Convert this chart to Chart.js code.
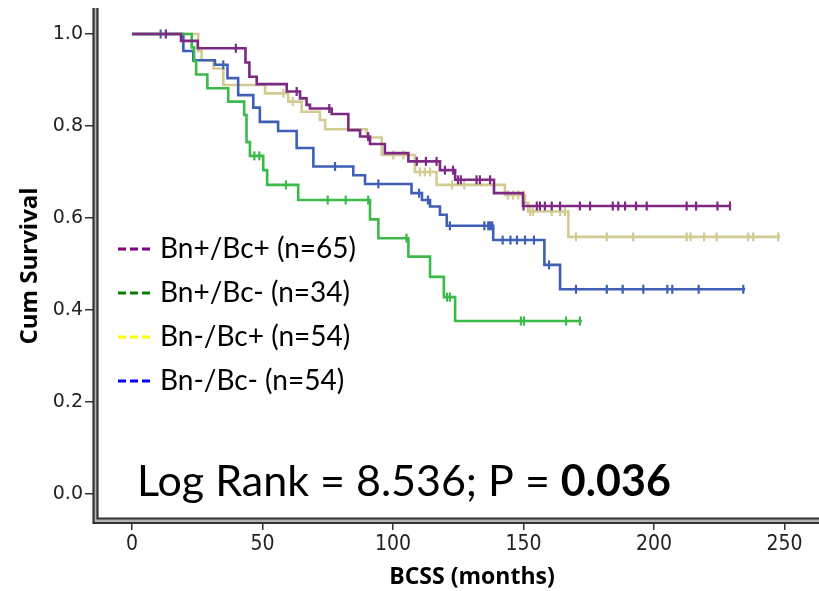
<!DOCTYPE html>
<html>
<head>
<meta charset="utf-8">
<script src="https://cdn.jsdelivr.net/npm/chart.js@4.4.1/dist/chart.umd.min.js"></script>
<style>
  html, body { margin: 0; padding: 0; background: #fff; }
  #wrap { width: 819px; height: 591px; }
</style>
</head>
<body>
<div id="wrap"><canvas id="km" width="819" height="591"></canvas></div>
<script>
/* ---- Kaplan-Meier data (months, cum survival) ---- */

// Bn+/Bc+ (n=65)
const purpleTimes = [0, 18.8, 25.2, 43.5, 45, 47.8, 59.3, 64.4, 66.9, 68.2, 76.5, 82.9, 87.4, 91.2, 96.9, 105.9, 118, 123.8, 138.7, 149.8, 229.5];
const purpleSurv  = [1, 0.985, 0.969, 0.938, 0.907, 0.891, 0.875, 0.86, 0.846, 0.838, 0.826, 0.791, 0.777, 0.761, 0.741, 0.723, 0.704, 0.683, 0.654, 0.626, 0.626];
const purpleCens  = [13, 39.8, 63.1, 75.6, 90.5, 109.1, 112.6, 116.7, 119.9, 123, 124.9, 126, 132, 133.3, 137.2, 150, 155.1, 156.3, 158.2, 160.8, 164, 171.6, 175.5, 184.2, 186.3, 188.9, 193.1, 197.2, 212.5, 216.1, 224.3, 229.1];

// Bn+/Bc- (n=34)
const greenTimes = [0, 22.9, 23.8, 24.6, 28.9, 36.9, 43, 43.9, 45.2, 50.3, 51.8, 63.7, 91.2, 94.4, 105.9, 114.2, 119.5, 123.8, 172.4];
const greenSurv  = [1, 0.971, 0.941, 0.912, 0.882, 0.853, 0.824, 0.765, 0.735, 0.704, 0.672, 0.639, 0.597, 0.556, 0.516, 0.472, 0.428, 0.376, 0.376];
const greenCens  = [46.9, 48.8, 59, 75, 81.9, 90.5, 105.2, 120.7, 121.8, 149, 150.2, 166.3, 171.6];

// Bn-/Bc+ (n=54)
const tanTimes = [0, 25.4, 26.7, 31.2, 35, 51, 59.9, 65, 72, 74, 89.9, 95.7, 108.4, 116.7, 142.9, 150.6, 151.8, 167.2, 248.3];
const tanSurv  = [1, 0.963, 0.943, 0.925, 0.889, 0.871, 0.853, 0.831, 0.813, 0.793, 0.775, 0.737, 0.70, 0.672, 0.65, 0.633, 0.614, 0.559, 0.559];
const tanCens  = [58, 61.6, 100.1, 104, 110.3, 112.2, 114.2, 122.6, 127.3, 144, 146, 148, 150, 152.5, 153.6, 160.8, 164, 165.9, 170.1, 181.9, 192, 212.5, 214, 219.2, 224, 236.1, 238, 247.6];

// Bn-/Bc- (n=54)
const blueTimes = [0, 19.7, 23.5, 31.8, 36.6, 40.7, 46.5, 49, 56, 63.1, 69.5, 84.8, 89.3, 107.1, 111.1, 114.2, 118, 120.6, 138.4, 158, 164, 234.9];
const blueSurv  = [1, 0.963, 0.943, 0.933, 0.904, 0.867, 0.84, 0.809, 0.789, 0.752, 0.712, 0.693, 0.674, 0.654, 0.639, 0.625, 0.607, 0.583, 0.552, 0.498, 0.445, 0.445];
const blueCens  = [11, 35, 77.8, 94.4, 110, 113.4, 121.8, 135, 136.5, 137.2, 138, 142, 145, 147.5, 150.6, 154, 159.8, 170.1, 181.9, 188, 195.9, 205.1, 207, 217.1, 234.2];

const xTicks = [0, 50, 100, 150, 200, 250];
const yTicks = [0, 0.2, 0.4, 0.6, 0.8, 1.0];

const legendLabels = ['Bn+/Bc+ (n=65)', 'Bn+/Bc- (n=34)', 'Bn-/Bc+ (n=54)', 'Bn-/Bc- (n=54)'];
const legendColors = ['#7f007f', '#008000', '#ffff00', '#0000ff'];

const statText = 'Log Rank = 8.536; P = ';
const statBold = '0.036';

/* ---- helpers ---- */
function stepPoints(times, surv) {
  return times.map((t, i) => ({ x: t, y: surv[i] }));
}
function censorPoints(times, surv, cens) {
  return cens.map(c => {
    let s = surv[0];
    for (let i = 0; i < times.length; i++) if (times[i] <= c) s = surv[i];
    return { x: c, y: s };
  });
}

function curve(label, times, surv, color) {
  return {
    label, data: stepPoints(times, surv),
    borderColor: color, borderWidth: 2.6,
    stepped: 'before', pointRadius: 0, fill: false, tension: 0
  };
}
function marks(times, surv, cens, color) {
  return {
    data: censorPoints(times, surv, cens),
    showLine: false, borderColor: color, backgroundColor: color,
    pointStyle: 'line', rotation: 90, pointRadius: 4.5, borderWidth: 2.2
  };
}

const PURPLE = '#7d2883', GREEN = '#3cba49', TAN = '#d3cc92', BLUE = '#3f5fb7';

// plot box of the original figure
const AREA = { left: 98, right: 819, top: 8, bottom: 518 };

// pin the plot area so the scales line up with the figure
const pinArea = {
  id: 'pinArea',
  afterLayout(chart) {
    Object.assign(chart.chartArea, AREA, { width: AREA.right - AREA.left, height: AREA.bottom - AREA.top });
    const x = chart.scales.x, y = chart.scales.y;
    x.left = AREA.left; x.right = AREA.right; x.width = AREA.right - AREA.left; x.configure();
    y.top = AREA.top; y.bottom = AREA.bottom; y.height = AREA.bottom - AREA.top; y.configure();
  }
};

// Axes, legend and annotation
const overlay = {
  id: 'overlay',
  afterDraw(chart) {
    const ctx = chart.ctx;
    const a = chart.chartArea;
    ctx.save();

    // double axis lines
    ctx.fillStyle = '#b4b4b4';
    ctx.fillRect(93, a.top, 5, 523 - a.top);
    ctx.fillRect(93, 518, 819 - 93, 5);
    ctx.strokeStyle = '#333';
    ctx.lineWidth = 2.2;
    ctx.beginPath();
    ctx.moveTo(93.5, a.top); ctx.lineTo(93.5, 523); ctx.lineTo(819, 523);
    ctx.moveTo(97.5, a.top); ctx.lineTo(97.5, 518.5); ctx.lineTo(819, 518.5);
    ctx.stroke();

    // axis titles
    ctx.fillStyle = '#000';
    ctx.font = 'bold 23px "Open Sans"';
    ctx.textAlign = 'center';
    ctx.textBaseline = 'middle';
    ctx.fillText('BCSS (months)', 472, 577);
    ctx.save();
    ctx.translate(30, 266);
    ctx.rotate(-Math.PI / 2);
    ctx.font = 'bold 24px "Open Sans"';
    ctx.fillText('Cum Survival', 0, 0);
    ctx.restore();

    // legend
    ctx.textAlign = 'left';
    ctx.font = '28px Lato';
    legendLabels.forEach((lab, i) => {
      const y = 249 + i * 44;
      ctx.strokeStyle = legendColors[i];
      ctx.lineWidth = 3;
      ctx.beginPath();
      for (let k = 0; k < 3; k++) { ctx.moveTo(118 + k * 12, y); ctx.lineTo(126 + k * 12, y); }
      ctx.stroke();
      ctx.fillStyle = '#000';
      ctx.fillText(lab, 160, y);
    });

    // log rank
    ctx.textBaseline = 'alphabetic';
    ctx.font = '43px Lato';
    ctx.fillText(statText, 137, 496);
    const w = ctx.measureText(statText).width;
    ctx.font = 'bold 43px Lato';
    ctx.fillText(statBold, 137 + w, 496);

    ctx.restore();
  }
};

new Chart(document.getElementById('km'), {
  type: 'line',
  data: {
    datasets: [
      marks(purpleTimes, purpleSurv, purpleCens, PURPLE),
      curve('Bn+/Bc+', purpleTimes, purpleSurv, PURPLE),
      marks(greenTimes, greenSurv, greenCens, GREEN),
      curve('Bn+/Bc-', greenTimes, greenSurv, GREEN),
      marks(blueTimes, blueSurv, blueCens, BLUE),
      curve('Bn-/Bc-', blueTimes, blueSurv, BLUE),
      marks(tanTimes, tanSurv, tanCens, TAN),
      curve('Bn-/Bc+', tanTimes, tanSurv, TAN)
    ]
  },
  options: {
    responsive: false,
    animation: false,
    devicePixelRatio: 1,
    layout: { padding: { top: 8, right: 0, left: 0, bottom: 0 } },
    plugins: { legend: { display: false }, tooltip: { enabled: false } },
    scales: {
      x: {
        type: 'linear', min: -13.0, max: 263.2,
        afterBuildTicks: s => { s.ticks = xTicks.map(v => ({ value: v })); },
        afterFit: s => { s.height = 73; s.paddingLeft = 0; s.paddingRight = 0; },
        grid: { drawOnChartArea: false, drawTicks: true, tickLength: 12, color: '#333', lineWidth: 1.5 },
        border: { display: false },
        ticks: { color: '#222', padding: 2, maxRotation: 0, font: { family: '"DejaVu Sans Condensed", "DejaVu Sans"', size: 21 } }
      },
      y: {
        min: -0.0522, max: 1.0565,
        afterBuildTicks: s => { s.ticks = yTicks.map(v => ({ value: v })); },
        afterFit: s => { s.width = 98; s.paddingTop = 0; s.paddingBottom = 0; },
        grid: { drawOnChartArea: false, drawTicks: true, tickLength: 13, color: '#333', lineWidth: 1.5 },
        border: { display: false },
        ticks: { color: '#222', padding: 2, callback: v => v.toFixed(1), font: { family: '"DejaVu Sans"', size: 19, lineHeight: 0.8 } }
      }
    }
  },
  plugins: [pinArea, overlay]
});
</script>
</body>
</html>
